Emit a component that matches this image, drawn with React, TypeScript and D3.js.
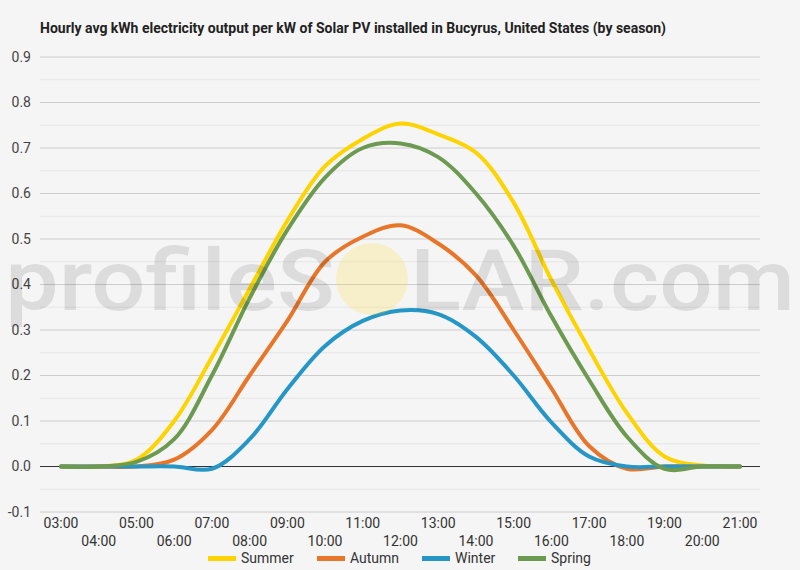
import * as d3 from "d3";

const hours = [3, 4, 5, 6, 7, 8, 9, 10, 11, 12, 13, 14, 15, 16, 17, 18, 19, 20, 21];
const summer = [0, 0, 0.015, 0.1, 0.24, 0.39, 0.54, 0.66, 0.72, 0.754, 0.73, 0.69, 0.58, 0.41, 0.257, 0.118, 0.022, 0.002, 0];
const autumn = [0, 0, 0, 0.015, 0.08, 0.2, 0.32, 0.45, 0.505, 0.53, 0.49, 0.42, 0.3, 0.172, 0.045, -0.005, 0, 0, 0];
const winter = [0, 0, 0, 0, -0.005, 0.06, 0.17, 0.265, 0.32, 0.343, 0.335, 0.285, 0.2, 0.097, 0.022, 0, 0, 0, 0];
const spring = [0, 0, 0.01, 0.06, 0.2, 0.37, 0.52, 0.635, 0.7, 0.71, 0.68, 0.6, 0.485, 0.33, 0.19, 0.066, -0.005, 0, 0];
const yTicks = [-0.1, 0, 0.1, 0.2, 0.3, 0.4, 0.5, 0.6, 0.7, 0.8, 0.9];

const series = [
  { name: "Summer", values: summer, color: "#fdd300" },
  { name: "Autumn", values: autumn, color: "#e8762a" },
  { name: "Winter", values: winter, color: "#2596c6" },
  { name: "Spring", values: spring, color: "#6c9a50" },
];

const title =
  "Hourly avg kWh electricity output per kW of Solar PV installed in Bucyrus, United States (by season)";

export default function App() {
  const width = 800;
  const height = 570;
  const left = 40;
  const right = 760;

  const x = d3.scaleLinear().domain([3, 21]).range([61, 740]);
  const y = d3.scaleLinear().domain([-0.1, 0.9]).range([512, 57]);

  const line = (vals: number[]) =>
    d3
      .line<number>()
      .x((_, i) => x(hours[i]))
      .y((d) => y(d))
      .curve(d3.curveCatmullRom.alpha(0.5))(vals) || "";

  const minor = d3.range(-0.05, 0.9, 0.1);
  const font = "Roboto, sans-serif";
  const legendX = [208, 317, 422, 518];

  return (
    <svg
      width={width}
      height={height}
      style={{ position: "absolute", left: 0, top: 0, background: "#f5f5f5" }}
      fontFamily={font}
    >
      <rect width={width} height={height} fill="#f5f5f5" />
      <text x={40} y={33} fontSize={14} fontWeight="bold" fill="#222">
        {title}
      </text>

      {minor.map((t) => (
        <line key={"m" + t} x1={left} x2={right} y1={y(t)} y2={y(t)} stroke="#e6e6e6" strokeWidth={1} />
      ))}
      {yTicks.map((t) => (
        <g key={t}>
          <line
            x1={left}
            x2={right}
            y1={y(t)}
            y2={y(t)}
            stroke={t === 0 ? "#333" : "#cccccc"}
            strokeWidth={1}
          />
          <text x={31} y={y(t)} dy="0.35em" textAnchor="end" fontSize={14} fill="#444">
            {t.toFixed(1)}
          </text>
        </g>
      ))}

      {hours.map((h, i) => (
        <text
          key={h}
          x={x(h)}
          y={i % 2 === 0 ? 528 : 546}
          textAnchor="middle"
          fontSize={14}
          fill="#333"
        >
          {String(h).padStart(2, "0") + ":00"}
        </text>
      ))}

      {series.map((s) => (
        <path
          key={s.name}
          d={line(s.values)}
          fill="none"
          stroke={s.color}
          strokeWidth={4}
          strokeLinejoin="round"
          strokeLinecap="round"
        />
      ))}

      {series.map((s, i) => (
        <g key={"l" + s.name}>
          <rect x={legendX[i]} y={556} width={28} height={5} fill={s.color} />
          <text x={legendX[i] + 33} y={558} dy="0.35em" fontSize={14} fill="#333">
            {s.name}
          </text>
        </g>
      ))}

      <g pointerEvents="none">
        <circle cx={372} cy={279} r={36} fill="rgba(250,225,70,0.25)" />
        <text
          x={5}
          y={310}
          fontSize={86}
          fontWeight={500}
          fill="rgba(0,0,0,0.1)"
          textLength={330}
          lengthAdjust="spacingAndGlyphs"
        >
          profileS
        </text>
        <text
          x={410}
          y={310}
          fontSize={86}
          fontWeight={500}
          fill="rgba(0,0,0,0.1)"
          textLength={385}
          lengthAdjust="spacingAndGlyphs"
        >
          LAR.com
        </text>
      </g>
    </svg>
  );
}
